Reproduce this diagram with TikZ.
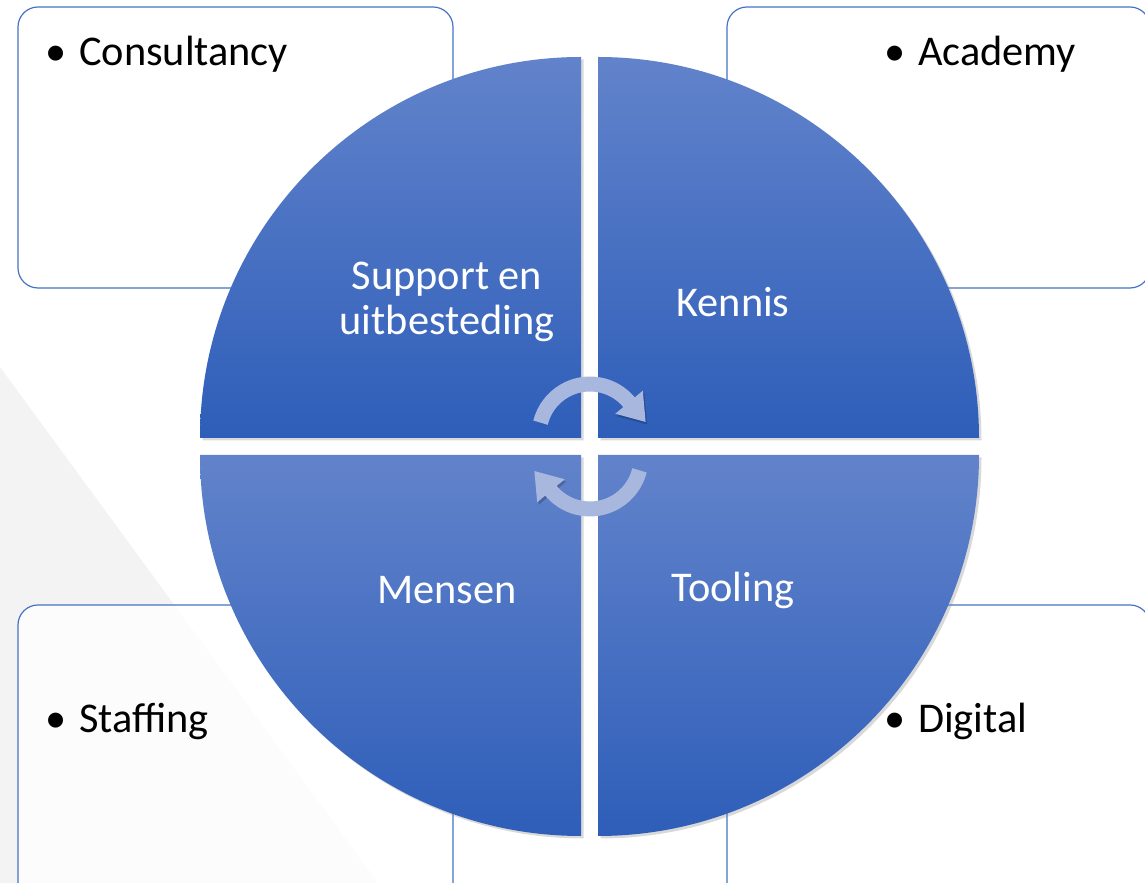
\documentclass[tikz,border=0pt]{standalone}
\usepackage{fontspec}
\setmainfont{Carlito}
\usepackage{xcolor}
\usepackage{tikz}
\usetikzlibrary{arrows.meta,shadows}
\definecolor{Quad-top}{RGB}{ 98,131,203}
\definecolor{Quad-bottom}{RGB}{ 46, 94,185}
\definecolor{Box-line}{RGB}{ 68,114,196}
\definecolor{Cycle}{RGB}{168,183,222}
\definecolor{Backdrop}{RGB}{243,243,243}
\tikzstyle{box}=[draw=Box-line,line width=1.2bp,fill=white,fill opacity=0.8,rounded corners=20bp]
\tikzstyle{quad}=[top color=Quad-top,bottom color=Quad-bottom,drop shadow={shadow xshift=2.5bp,shadow yshift=-2.5bp,opacity=0.3}]
\tikzstyle{lbl}=[text=white,align=center,inner sep=0pt,font=\fontsize{42.5}{45}\selectfont]
\tikzstyle{item}=[anchor=base west,inner sep=0pt,font=\fontsize{42.5}{45}\selectfont]
\tikzstyle{cyc}=[draw=Cycle,line width=15bp,line cap=butt,arrows={-Triangle[width=34bp,length=26bp]},
                 preaction={draw=black,draw opacity=0.2,transform canvas={xshift=1.5bp,yshift=-2.5bp}}]
\newcommand{\bul}{\makebox[34bp][l]{\textbullet}}

\begin{document}
\begin{tikzpicture}[x=1bp,y=1bp]
    \useasboundingbox (0,0) rectangle (1145,883);

    % backdrop
    \fill[Backdrop] (0,516) -- (378,0) -- (0,0) -- cycle;

    % corner boxes
    \draw[box] (18,595)  rectangle (453,876);
    \draw[box] (727,595) rectangle (1150,876);
    \draw[box] (18,-25)  rectangle (453,278);
    \draw[box] (727,-25) rectangle (1150,278);

    \node[item] (consultancy) at (45,817)  {\bul Consultancy};
    \node[item] (academy)     at (884,817) {\bul Academy};
    \node[item] (staffing)    at (45,150)  {\bul Staffing};
    \node[item] (digital)     at (884,150) {\bul Digital};

    % quadrants
    \path[quad] (581,445) -- ++(-381,0) arc[start angle=180,end angle=90,radius=381] -- cycle;
    \path[quad] (598,445) -- ++(0,381)  arc[start angle=90,end angle=0,radius=381]   -- cycle;
    \path[quad] (581,428) -- ++(0,-381) arc[start angle=270,end angle=180,radius=381] -- cycle;
    \path[quad] (598,428) -- ++(381,0)  arc[start angle=0,end angle=-90,radius=381]  -- cycle;

    \node[lbl] (support) at (447,581) {Support en\\uitbesteding};
    \node[lbl] (kennis)  at (733,581) {Kennis};
    \node[lbl] (mensen)  at (447,293) {Mensen};
    \node[lbl] (tooling) at (733,293) {Tooling};

    % cycle arrows
    \draw[cyc] (590,448) ++(166:51) arc[start angle=166,end angle=40,radius=51] -- ++(-50:26);
    \draw[cyc] (590,425) ++(-14:51) arc[start angle=-14,end angle=-140,radius=51] -- ++(130:26);

\end{tikzpicture}
\end{document}
